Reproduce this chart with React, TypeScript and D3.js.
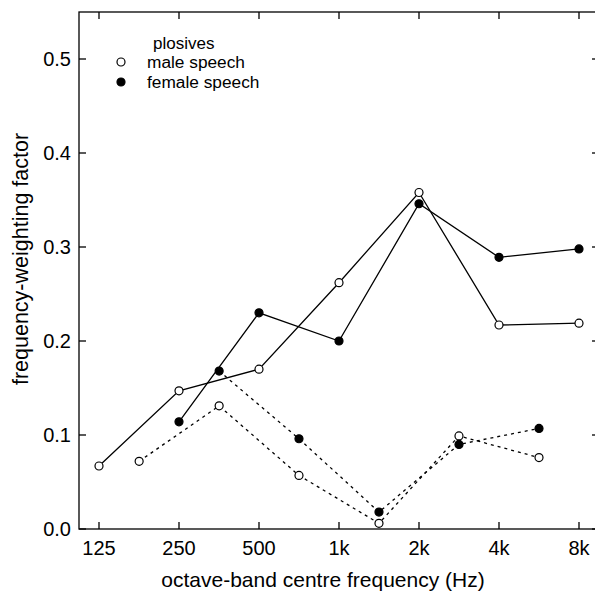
import React from "react";
import * as d3 from "d3";

const bandFreqs = [125, 250, 500, 1000, 2000, 4000, 8000];
const bandLabels = ["125", "250", "500", "1k", "2k", "4k", "8k"];
const yTicks = [0.0, 0.1, 0.2, 0.3, 0.4, 0.5];

// solid lines: octave-band frequencies
const maleSolidFreq = [125, 250, 500, 1000, 2000, 4000, 8000];
const maleSolidVal = [0.067, 0.147, 0.170, 0.262, 0.358, 0.217, 0.219];
const femaleSolidFreq = [250, 500, 1000, 2000, 4000, 8000];
const femaleSolidVal = [0.114, 0.230, 0.200, 0.346, 0.289, 0.298];

// dashed lines: half-octave frequencies
const maleDashFreq = [177, 354, 707, 1414, 2828, 5657];
const maleDashVal = [0.072, 0.131, 0.057, 0.006, 0.099, 0.076];
const femaleDashFreq = [354, 707, 1414, 2828, 5657];
const femaleDashVal = [0.168, 0.096, 0.018, 0.090, 0.107];

const FONT = "'Liberation Sans', Arial, Helvetica, sans-serif";

export default function App() {
  const W = 595, H = 594;
  const left = 79, right = 599, top = 12, bottom = 529;
  const x = d3.scaleLog().base(2).domain([125 * Math.pow(2, -0.25), 8000 * Math.pow(2, 0.25)]).range([left, right]);
  const y = d3.scaleLinear().domain([0, 0.55]).range([bottom, top]);
  const line = d3.line<[number, number]>().x(d => x(d[0])).y(d => y(d[1]));
  const zip = (f: number[], v: number[]) => f.map((fv, i) => [fv, v[i]] as [number, number]);

  const series = [
    { f: maleSolidFreq, v: maleSolidVal, dash: undefined, filled: false },
    { f: femaleSolidFreq, v: femaleSolidVal, dash: undefined, filled: true },
    { f: maleDashFreq, v: maleDashVal, dash: "3,4", filled: false },
    { f: femaleDashFreq, v: femaleDashVal, dash: "3,4", filled: true },
  ];
  const tick = 7;
  const r = 4;

  return (
    <svg width={W} height={H} style={{ position: "absolute", left: 0, top: 0, background: "#fff" }} fontFamily={FONT}>
      <rect x={0} y={0} width={W} height={H} fill="#fff" />
      {/* frame */}
      <rect x={left} y={top} width={right - left} height={bottom - top} fill="none" stroke="#000" strokeWidth={1.3} />
      {/* x ticks */}
      {bandFreqs.map((f, i) => (
        <g key={"xt" + i}>
          <line x1={x(f)} x2={x(f)} y1={bottom} y2={bottom - tick} stroke="#000" strokeWidth={1.3} />
          <line x1={x(f)} x2={x(f)} y1={top} y2={top + tick} stroke="#000" strokeWidth={1.3} />
          <text x={x(f)} y={555} fontSize={20} textAnchor="middle">{bandLabels[i]}</text>
        </g>
      ))}
      {/* y ticks */}
      {yTicks.map((t, i) => (
        <g key={"yt" + i}>
          <line x1={left} x2={left + tick} y1={y(t)} y2={y(t)} stroke="#000" strokeWidth={1.3} />
          <line x1={right} x2={right - tick} y1={y(t)} y2={y(t)} stroke="#000" strokeWidth={1.3} />
          <text x={71} y={y(t)} dy="0.36em" fontSize={20} textAnchor="end">{t.toFixed(1)}</text>
        </g>
      ))}
      {/* axis titles */}
      <text x={323} y={587} fontSize={21} textAnchor="middle">octave-band centre frequency (Hz)</text>
      <text transform={`translate(28,259) rotate(-90)`} fontSize={21.5} textAnchor="middle">frequency-weighting factor</text>
      {/* lines */}
      {series.map((s, i) => (
        <path key={"l" + i} d={line(zip(s.f, s.v)) || ""} fill="none" stroke="#000" strokeWidth={1.3} strokeDasharray={s.dash} />
      ))}
      {/* markers */}
      {series.map((s, i) => (
        <g key={"m" + i}>
          {zip(s.f, s.v).map((d, j) => (
            <circle key={j} cx={x(d[0])} cy={y(d[1])} r={r} fill={s.filled ? "#000" : "#fff"} stroke="#000" strokeWidth={1.2} />
          ))}
        </g>
      ))}
      {/* legend */}
      <text x={153} y={48.5} fontSize={17}>plosives</text>
      <circle cx={121} cy={62} r={r} fill="#fff" stroke="#000" strokeWidth={1.2} />
      <text x={147} y={68} fontSize={17.3}>male speech</text>
      <circle cx={121} cy={82} r={r} fill="#000" stroke="#000" strokeWidth={1.2} />
      <text x={147} y={88} fontSize={17.3}>female speech</text>
    </svg>
  );
}
